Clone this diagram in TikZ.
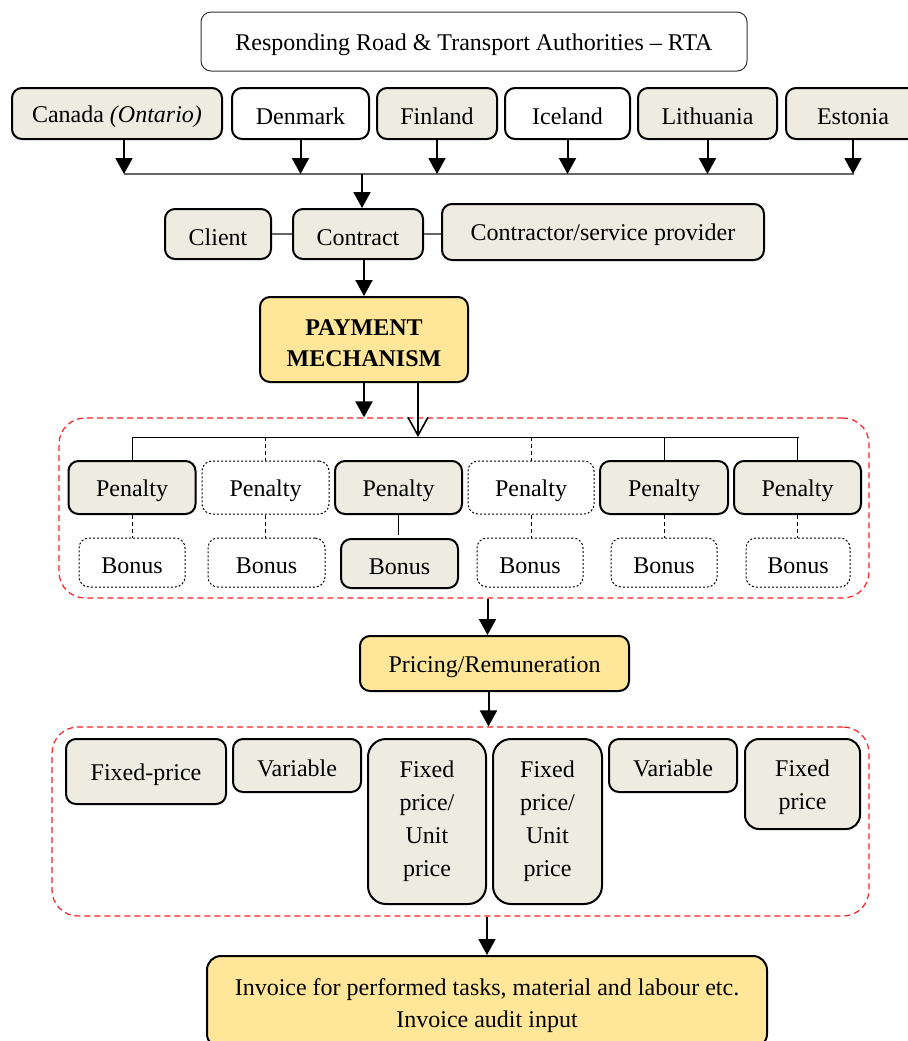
\documentclass[tikz,border=0pt]{standalone}
\usepackage{fontspec}
\setmainfont{Liberation Serif}
\usetikzlibrary{arrows.meta,calc}
\definecolor{beige}{HTML}{EEECE1}
\definecolor{gold}{HTML}{FFE699}
\definecolor{grpred}{HTML}{FF2020}
\newcommand\fstrut{\rule{0pt}{12pt}}
\begin{document}
\begin{tikzpicture}[x=0.5pt,y=-0.5pt,
  font=\fontsize{12}{16}\selectfont,
  sz/.style 2 args={minimum width=#1*0.5pt,minimum height=#2*0.5pt},
  base/.style={rectangle,rounded corners=5pt,inner sep=1pt,align=center,
    execute at begin node={\rule{0pt}{11.5pt}}},
  sbox/.style={base,draw=black,line width=1pt,fill=beige},
  wbox/.style={base,draw=black,line width=1pt,fill=white},
  ybox/.style={base,draw=black,line width=1pt,fill=gold},
  dbox/.style={base,draw=black,line width=0.5pt,dash pattern=on 1pt off 1pt,fill=white},
  topbox/.style={base,draw=black!80,line width=0.5pt,fill=white},
  nostrut/.style={execute at begin node={}},
  grp/.style={rectangle,rounded corners=13pt,draw=grpred,line width=0.6pt,dash pattern=on 3pt off 2pt},
  arr/.style={line width=1pt,-{Triangle[length=8pt,width=8.5pt]}},
  oarr/.style={line width=0.8pt,-{Straight Barb[length=9pt,width=10pt]}},
  conn/.style={line width=0.6pt,draw=black!60},
  sline/.style={line width=0.5pt,draw=black},
  dline/.style={line width=0.5pt,draw=black,dash pattern=on 2pt off 1.5pt},
]
\useasboundingbox (0,0) rectangle (907,1041);

% group frames
\node[grp,sz={810}{180}] (grp1) at (464,508) {};
\node[grp,sz={817}{189}] (grp2) at (460.5,821.5) {};

% top
\node[topbox,sz={546}{59}] (rta) at (474,41.5) {Responding Road \& Transport Authorities – RTA};

% countries
\node[sbox,sz={210}{51}] (canada) at (117,113.5) {Canada \textit{(Ontario)}};
\node[wbox,sz={137}{51}] (denmark) at (300.5,113.5) {Denmark};
\node[sbox,sz={120}{51}] (finland) at (437,113.5) {Finland};
\node[wbox,sz={125}{51}] (iceland) at (567.5,113.5) {Iceland};
\node[sbox,sz={139}{51}] (lithuania) at (707.5,113.5) {Lithuania};
\node[sbox,sz={134}{51}] (estonia) at (853,113.5) {Estonia};

\coordinate (busL) at (124,174);
\coordinate (busR) at (854,174);
\coordinate (busM) at (362,174);
\draw[conn] (busL) -- (busR);
\draw[arr] (canada.south -| busL) -- (busL);
\draw[arr] (denmark.south) -- (denmark.south |- busL);
\draw[arr] (finland.south) -- (finland.south |- busL);
\draw[arr] (iceland.south) -- (iceland.south |- busL);
\draw[arr] (lithuania.south) -- (lithuania.south |- busL);
\draw[arr] (estonia.south) -- (estonia.south |- busR);

% contract row
\node[sbox,sz={106}{50}] (client) at (218,234) {Client};
\node[sbox,sz={130}{50}] (contract) at (358,234) {Contract};
\node[sbox,sz={322}{56}] (contractor) at (603,232) {Contractor/service provider};
\draw[arr] (busM) -- (busM |- contract.north);
\draw[conn] (client.east) -- (contract.west);
\draw[conn] (contract.east) -- (contract.east -| contractor.west);

% payment
\node[ybox,nostrut,sz={208}{85},font=\fontsize{12}{15.5}\selectfont\bfseries] (payment) at (364,339.5) {\fstrut PAYMENT\\MECHANISM};
\draw[arr] (payment.north |- contract.south) -- (payment.north);

% penalty / bonus
\coordinate (pbL) at (132,437);
\coordinate (pbR) at (799,437);
\draw[sline] (pbL) -- (pbR);
\draw[arr] (payment.south) -- (payment.south |- grp1.north);
\coordinate (po) at ([xshift=27pt]payment.south);
\draw[oarr] (po) -- (po |- pbL);

\node[sbox,sz={127}{53}] (pen1) at (132,487.5) {Penalty};
\node[dbox,sz={127}{53}] (pen2) at (265.5,487.5) {Penalty};
\node[sbox,sz={127}{53}] (pen3) at (398.5,487.5) {Penalty};
\node[dbox,sz={126}{53}] (pen4) at (531,487.5) {Penalty};
\node[sbox,sz={128}{53}] (pen5) at (664,487.5) {Penalty};
\node[sbox,sz={127}{53}] (pen6) at (797.5,487.5) {Penalty};

\draw[sline] (pen1.north |- pbL) -- (pen1.north);
\draw[dline] (pen2.north |- pbL) -- (pen2.north);
\draw[dline] (pen4.north |- pbL) -- (pen4.north);
\draw[sline] (pen5.north |- pbL) -- (pen5.north);
\draw[sline] (pen6.north |- pbL) -- (pen6.north);

\node[dbox,sz={106}{49}] (bon1) at (132,562.5) {Bonus};
\node[dbox,sz={117}{49}] (bon2) at (266.5,562.5) {Bonus};
\node[sbox,sz={117}{49}] (bon3) at (399.5,563.5) {Bonus};
\node[dbox,sz={106}{49}] (bon4) at (530,562.5) {Bonus};
\node[dbox,sz={106}{49}] (bon5) at (664,562.5) {Bonus};
\node[dbox,sz={104}{49}] (bon6) at (798,562.5) {Bonus};

\draw[dline] (pen1.south) -- (pen1.south |- bon1.north);
\draw[dline] (pen2.south) -- (pen2.south |- bon2.north);
\draw[sline] (pen3.south) -- ([yshift=1.5pt]pen3.south |- bon3.north);
\draw[dline] (pen4.south) -- (pen4.south |- bon4.north);
\draw[dline] (pen5.south) -- (pen5.south |- bon5.north);
\draw[dline] (pen6.south) -- (pen6.south |- bon6.north);

% pricing
\node[ybox,sz={269}{55}] (pricing) at (494.5,663.5) {Pricing/Remuneration};
\coordinate (pa) at ([xshift=-3.5pt]pricing.north);
\coordinate (pb) at ([xshift=-3pt]pricing.south);
\draw[arr] (pa |- grp1.south) -- (pa);
\draw[arr] (pb) -- (pb |- grp2.north);

% pricing types
\node[sbox,sz={160}{65}] (fp) at (146,771.5) {Fixed-price};
\node[sbox,sz={128}{53}] (var1) at (297,765.5) {Variable};
\node[sbox,nostrut,rounded corners=9pt,sz={118}{165},font=\fontsize{12}{16.5}\selectfont] (fpu1) at (427,821.5) {Fixed\\price/\\Unit\\price};
\node[sbox,nostrut,rounded corners=9pt,sz={109}{165},font=\fontsize{12}{16.5}\selectfont] (fpu2) at (547.5,821.5) {Fixed\\price/\\Unit\\price};
\node[sbox,sz={128}{53}] (var2) at (673,765.5) {Variable};
\node[sbox,nostrut,rounded corners=7pt,sz={115}{90},font=\fontsize{12}{16.5}\selectfont] (fixp) at (802.5,784) {\fstrut Fixed\\price};

% invoice
\node[ybox,nostrut,rounded corners=7pt,sz={560}{92}] (invoice) at (487,1002) {\fstrut Invoice for performed tasks, material and labour etc.\\Invoice audit input};
\draw[arr] (invoice.north |- grp2.south) -- (invoice.north);
\end{tikzpicture}
\end{document}
